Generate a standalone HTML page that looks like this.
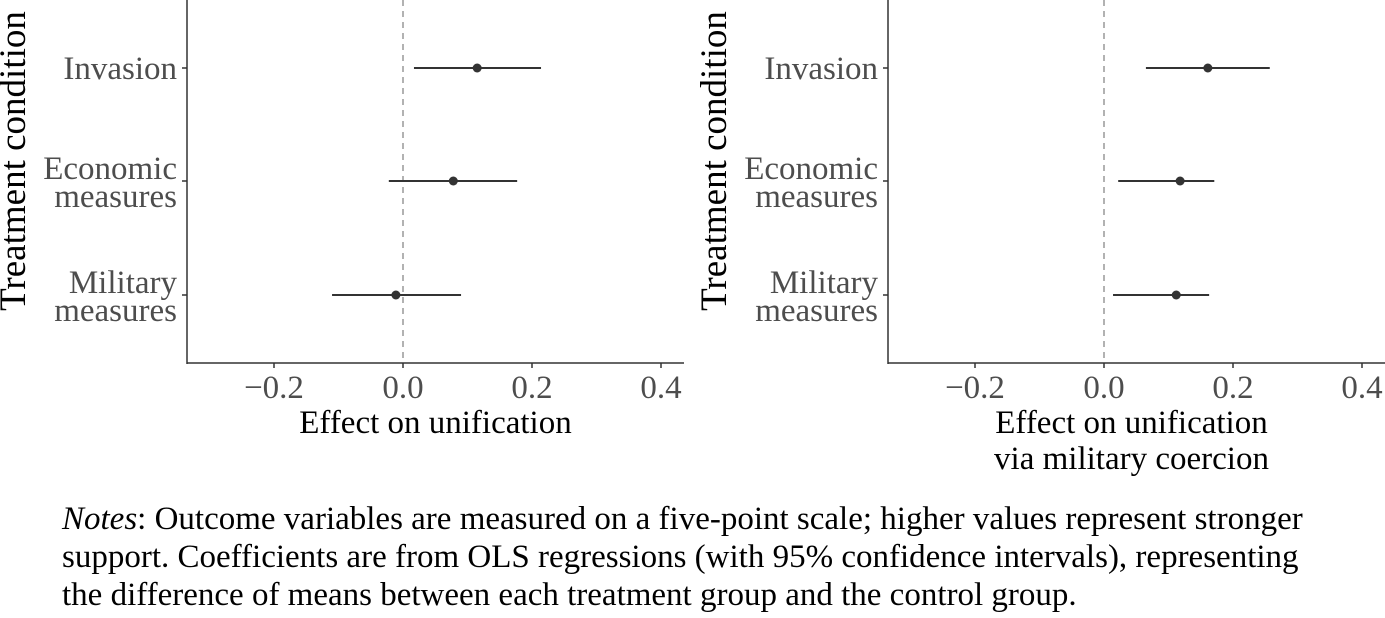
<!DOCTYPE html>
<html><head><meta charset="utf-8"><style>
body{margin:0;background:#fff;}
svg{display:block;font-family:"Liberation Serif",serif;}
</style></head><body>
<svg width="1385" height="618" id="fig">
</svg>
<script>
const categories=["Invasion","Economic measures","Military measures"];
const est1=[0.115,0.078,-0.011];
const lo1=[0.017,-0.022,-0.110];
const hi1=[0.214,0.177,0.090];
const est2=[0.161,0.118,0.112];
const lo2=[0.065,0.022,0.014];
const hi2=[0.257,0.171,0.163];
const ticks=[-0.2,0,0.2,0.4];
const tickLabels=["\u22120.2","0.0","0.2","0.4"];
const NS="http://www.w3.org/2000/svg";
const svg=document.getElementById('fig');
function mk(t,a,p){const e=document.createElementNS(NS,t);for(const k in a)e.setAttribute(k,a[k]);(p||svg).appendChild(e);return e;}
const rowY=[68,181,295];
function panel(name,axX,axR,zeroX,est,lo,hi,title){
  const g=mk('g',{});
  
  
  const x=v=>zeroX+v*645;
  const z=mk('line',{x1:x(0),x2:x(0),y1:0,y2:363,stroke:'#999','stroke-width':1.5,'stroke-dasharray':'6,5'},g);
  
  const ya=mk('line',{x1:axX,x2:axX,y1:0,y2:364,stroke:'#333','stroke-width':1.5},g);
  
  const xa=mk('line',{x1:axX,x2:axR,y1:363,y2:363,stroke:'#333','stroke-width':1.5},g);
  
  ticks.forEach((t,i)=>{
    const tk=mk('line',{x1:x(t),x2:x(t),y1:363,y2:368,stroke:'#333','stroke-width':1.5},g);
    
    const tl=mk('text',{x:x(t),y:398,'text-anchor':'middle','font-size':33,fill:'#4d4d4d'},g);
    tl.textContent=tickLabels[i];
    
  });
  categories.forEach((c,i)=>{
    const y=rowY[i];
    const tk=mk('line',{x1:axX-5,x2:axX,y1:y,y2:y,stroke:'#333','stroke-width':1.5},g);
    
    const parts=c==="Invasion"?["Invasion"]:[c.split(" ")[0],c.split(" ")[1]];
    const tl=mk('text',{'text-anchor':'end','font-size':33,fill:'#4d4d4d'},g);
    
    parts.forEach((p,j)=>{const ts=mk('tspan',{x:axX-10,y:parts.length===1?y+11:y-2+j*28},tl);ts.textContent=p;});
    const ci=mk('line',{x1:x(lo[i]),x2:x(hi[i]),y1:y,y2:y,stroke:'#333','stroke-width':2},g);
    
    const pt=mk('circle',{cx:x(est[i]),cy:y,r:4.5,fill:'#333'},g);
    
  });
  const yt=mk('text',{transform:`translate(${axX-162},161) rotate(-90)`,'text-anchor':'middle','font-size':37,fill:'#000'},g);
  yt.textContent="Treatment condition";
  
  const xt=mk('text',{'text-anchor':'middle','font-size':33,fill:'#000'},g);
  
  title.forEach((p,j)=>{const ts=mk('tspan',{x:(axX+axR)/2-(title.length>1?5:0),y:433+j*36},xt);ts.textContent=p;});
}
panel('left-panel',187,684,403,est1,lo1,hi1,["Effect on unification"]);
panel('right-panel',888,1385,1104,est2,lo2,hi2,["Effect on unification","via military coercion"]);
const notes=["<tspan font-style='italic'>Notes</tspan>: Outcome variables are measured on a five-point scale; higher values represent stronger",
"support. Coefficients are from OLS regressions (with 95% confidence intervals), representing",
"the difference of means between each treatment group and the control group."];
notes.forEach((n,i)=>{
  const t=mk('text',{x:62,y:529+i*38,'font-size':33,fill:'#000'});
  t.innerHTML=n;
  
  
});
</script>
</body></html>
